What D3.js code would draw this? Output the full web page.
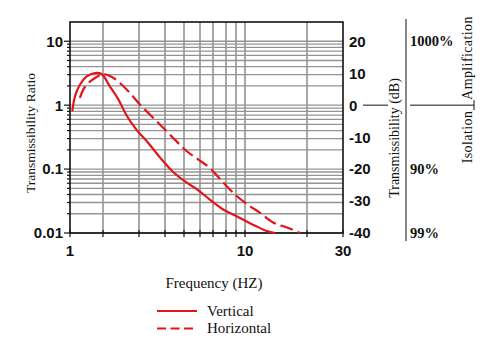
<!DOCTYPE html>
<html>
<head>
<meta charset="utf-8">
<script src="https://cdn.jsdelivr.net/npm/d3@7"></script>
<style>
  body { margin: 0; background: #fff; }
  svg { display: block; }
  .tick-label { font-family: "Liberation Sans", Arial, sans-serif; font-weight: bold; font-size: 15px; fill: #111; }
  .title { font-family: "Liberation Serif", "Times New Roman", serif; fill: #111; }
</style>
</head>
<body>
<svg id="chart" width="498" height="341"></svg>
<script>
// frequency (Hz) and transmissibility ratio for each response curve
var verticalFreq  = [1.05, 1.11, 1.23, 1.42, 1.69, 1.94, 2.16, 2.38, 2.61, 2.92, 3.31, 3.79, 4.39, 5.06, 5.80, 6.74, 7.77, 9.13, 10.2, 11.4, 12.8, 14.0];
var verticalRatio = [0.80, 1.37, 2.09, 2.82, 3.18, 3.07, 1.97, 1.22, 0.69, 0.41, 0.26, 0.151, 0.091, 0.064, 0.048, 0.0334, 0.0233, 0.0181, 0.0151, 0.0126, 0.0107, 0.010];

var horizontalFreq  = [1.23, 1.32, 1.47, 1.75, 2.0, 2.21, 2.42, 2.71, 3.03, 3.39, 3.93, 4.49, 5.16, 5.89, 6.74, 7.8, 9.1, 10.6, 11.8, 13.7, 16.0, 18.5];
var horizontalRatio = [1.30, 1.75, 2.22, 2.76, 3.07, 2.76, 2.22, 1.55, 1.02, 0.71, 0.44, 0.289, 0.19, 0.141, 0.104, 0.061, 0.0376, 0.0262, 0.0209, 0.0146, 0.0122, 0.010];

// axis ticks
var freqTicks  = [1, 2, 3, 4, 5, 6, 7, 8, 9, 10, 20, 30];
var freqLabels = [1, 10, 30];
var ratioLabels = [10, 1, 0.1, 0.01];
var dbTicks = [20, 10, 0, -10, -20, -30, -40];
var percentLabels = [{ text: '1000%', db: 20 }, { text: '90%', db: -20 }, { text: '99%', db: -40 }];
var legendNames = ['Vertical', 'Horizontal'];

var red = '#e0161b';
var grid = '#949494';

var plot = { left: 70, right: 343, top: 22, bottom: 233 };

var svg = d3.select('#chart');

// the frequency axis on this sheet is stretched unevenly, so map it piecewise
var x = d3.scaleLog()
    .domain(freqTicks)
    .range([70, 103, 139, 165, 184, 200, 213, 226, 236, 245, 307, 343]);
var y = d3.scaleLog().domain([0.01, 20]).range([plot.bottom, plot.top]);
var yDb = d3.scaleLinear()
    .domain([-40, 20 * Math.log10(20)])
    .range([plot.bottom, plot.top]);

// minor grid: 1..9 in every decade up to 10
var gridRatios = [];
[0.01, 0.1, 1].forEach(function (d) {
    for (var k = 1; k < 10; k++) gridRatios.push(+(d * k).toPrecision(3));
});
gridRatios.push(10);

svg.append('g').selectAll('line')
    .data(gridRatios)
    .enter().append('line')
    .attr('x1', plot.left).attr('x2', plot.right)
    .attr('y1', function (d) { return y(d); })
    .attr('y2', function (d) { return y(d); })
    .attr('stroke', grid)
    .attr('stroke-width', 1.3);

svg.append('g').selectAll('line')
    .data(freqTicks.slice(1, -1))
    .enter().append('line')
    .attr('x1', function (d) { return x(d); })
    .attr('x2', function (d) { return x(d); })
    .attr('y1', plot.top).attr('y2', plot.bottom)
    .attr('stroke', grid)
    .attr('stroke-width', 1.6);

// frame
svg.append('rect')
    .attr('x', plot.left).attr('y', plot.top)
    .attr('width', plot.right - plot.left)
    .attr('height', plot.bottom - plot.top)
    .attr('fill', 'none')
    .attr('stroke', '#111')
    .attr('stroke-width', 1.6);

// left axis ticks: long at decades, short at minor lines
svg.append('g').selectAll('line')
    .data(gridRatios)
    .enter().append('line')
    .attr('x1', function (d) { return ratioLabels.indexOf(d) >= 0 ? plot.left - 6 : plot.left - 3; })
    .attr('x2', plot.left)
    .attr('y1', function (d) { return y(d); })
    .attr('y2', function (d) { return y(d); })
    .attr('stroke', '#111')
    .attr('stroke-width', 1.2);

svg.append('g').selectAll('text')
    .data(ratioLabels)
    .enter().append('text')
    .attr('class', 'tick-label')
    .attr('x', 63)
    .attr('y', function (d) { return y(d); })
    .attr('dy', '0.36em')
    .attr('text-anchor', 'end')
    .text(function (d) { return d; });

// bottom axis ticks cross the axis line
svg.append('g').selectAll('line')
    .data(freqTicks)
    .enter().append('line')
    .attr('x1', function (d) { return x(d); })
    .attr('x2', function (d) { return x(d); })
    .attr('y1', plot.bottom - 3).attr('y2', plot.bottom + 4)
    .attr('stroke', '#111')
    .attr('stroke-width', 1.2);

svg.append('g').selectAll('text')
    .data(freqLabels)
    .enter().append('text')
    .attr('class', 'tick-label')
    .attr('x', function (d) { return x(d); })
    .attr('y', 256)
    .attr('text-anchor', 'middle')
    .text(function (d) { return d; });

// right dB axis
svg.append('g').selectAll('text')
    .data(dbTicks)
    .enter().append('text')
    .attr('class', 'tick-label')
    .attr('x', 349)
    .attr('y', function (d) { return yDb(d); })
    .attr('dy', '0.36em')
    .text(function (d) { return d; });

svg.append('line')
    .attr('x1', 363).attr('x2', 388)
    .attr('y1', yDb(0)).attr('y2', yDb(0))
    .attr('stroke', '#111');

svg.append('text')
    .attr('class', 'title')
    .attr('transform', 'translate(399,' + 138 + ') rotate(-90)')
    .attr('text-anchor', 'middle')
    .style('font-size', '14px')
    .text('Transmissibility (dB)');

// isolation / amplification scale
svg.append('line')
    .attr('x1', 406).attr('x2', 406)
    .attr('y1', 19).attr('y2', 241)
    .attr('stroke', '#111');
svg.append('line')
    .attr('x1', 410).attr('x2', 474)
    .attr('y1', yDb(0)).attr('y2', yDb(0))
    .attr('stroke', '#111');
svg.append('line')
    .attr('x1', 474).attr('x2', 474)
    .attr('y1', yDb(0) - 5).attr('y2', yDb(0) + 5)
    .attr('stroke', '#111');

svg.append('g').selectAll('text')
    .data(percentLabels)
    .enter().append('text')
    .attr('class', 'title')
    .attr('x', 410)
    .attr('y', function (d) { return yDb(d.db); })
    .attr('dy', '0.36em')
    .style('font-size', '14.5px')
    .style('font-weight', 'bold')
    .text(function (d) { return d.text; });

svg.append('text')
    .attr('class', 'title')
    .attr('transform', 'translate(472,58) rotate(-90)')
    .attr('text-anchor', 'middle')
    .style('font-size', '14px')
    .style('letter-spacing', '0.4px')
    .text('Amplification');
svg.append('text')
    .attr('class', 'title')
    .attr('transform', 'translate(472,137) rotate(-90)')
    .attr('text-anchor', 'middle')
    .style('font-size', '14px')
    .style('letter-spacing', '0.4px')
    .text('Isolation');

// axis titles
svg.append('text')
    .attr('class', 'title')
    .attr('transform', 'translate(35,133) rotate(-90)')
    .attr('text-anchor', 'middle')
    .style('font-size', '13.5px')
    .text('Transmissibility Ratio');

svg.append('text')
    .attr('class', 'title')
    .attr('x', 214).attr('y', 288)
    .attr('text-anchor', 'middle')
    .style('font-size', '15px')
    .text('Frequency (HZ)');

// response curves
var line = d3.line()
    .x(function (d) { return x(d[0]); })
    .y(function (d) { return y(d[1]); })
    .curve(d3.curveCatmullRom);

svg.append('path')
    .datum(d3.zip(verticalFreq, verticalRatio))
    .attr('fill', 'none')
    .attr('stroke', red)
    .attr('stroke-width', 2.2)
    .attr('stroke-linejoin', 'round')
    .attr('d', line);

svg.append('path')
    .datum(d3.zip(horizontalFreq, horizontalRatio))
    .attr('fill', 'none')
    .attr('stroke', red)
    .attr('stroke-width', 2.2)
    .attr('stroke-dasharray', '13,5')
    .attr('d', line);

// legend
var legend = svg.append('g').selectAll('g')
    .data(legendNames)
    .enter().append('g')
    .attr('transform', function (d, i) { return 'translate(157,' + (311 + i * 17.5) + ')'; });

legend.append('line')
    .attr('x1', 0).attr('x2', 40)
    .attr('stroke', red)
    .attr('stroke-width', 2.2)
    .attr('stroke-dasharray', function (d, i) { return i ? '9,4.5' : null; });

legend.append('text')
    .attr('class', 'title')
    .attr('x', 50)
    .attr('dy', '0.33em')
    .style('font-size', '15px')
    .text(function (d) { return d; });
</script>
</body>
</html>
